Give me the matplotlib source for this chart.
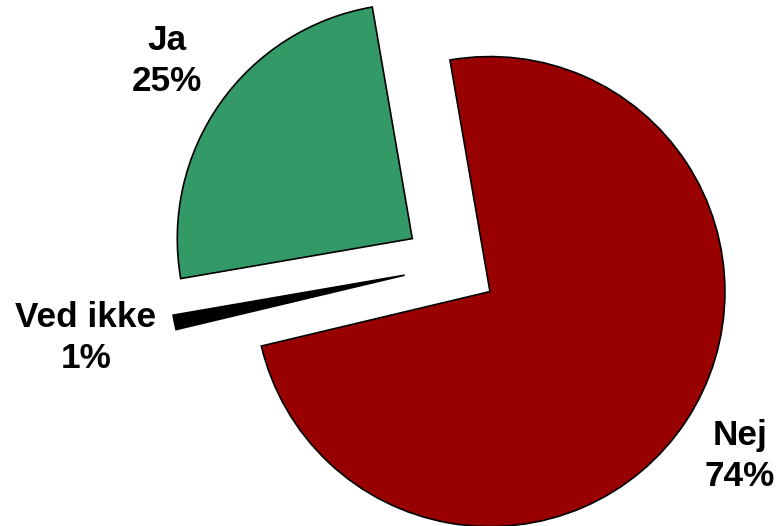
import matplotlib
matplotlib.use('Agg')
import matplotlib.pyplot as plt

# data (clockwise from the top)
labels = ['Nej', 'Ved ikke', 'Ja']
values = [74, 1, 25]
colors = ['#990000', '#000000', '#339966']

fig = plt.figure(figsize=(7.79, 5.26), dpi=100)
ax = fig.add_axes([0, 0, 1, 1])

# pie laid out in pixel units so it lines up with the 779x526 canvas
# (explode is an absolute offset here, so ~0.2 of the radius)
r = 235
ax.pie(values, colors=colors, startangle=99.8, counterclock=False,
       explode=[0.2 * r] * 3, radius=r, center=(450.7, 526 - 265.7),
       wedgeprops={'edgecolor': 'black', 'linewidth': 1.2})

ax.set_xlim(0, 779)
ax.set_ylim(0, 526)
ax.set_aspect('equal')
ax.axis('off')

# labels
font = dict(family='Liberation Sans', fontsize=25.3, fontweight='bold',
            ha='center', va='center', linespacing=1.3)
pos = {'Ja': (167, 526 - 61), 'Ved ikke': (86, 526 - 338), 'Nej': (740, 526 - 456)}
for lab, val in zip(labels, values):
    x, y = pos[lab]
    ax.text(x, y, f'{lab}\n{val}%', **font)

fig.savefig('out.png', dpi=100)
